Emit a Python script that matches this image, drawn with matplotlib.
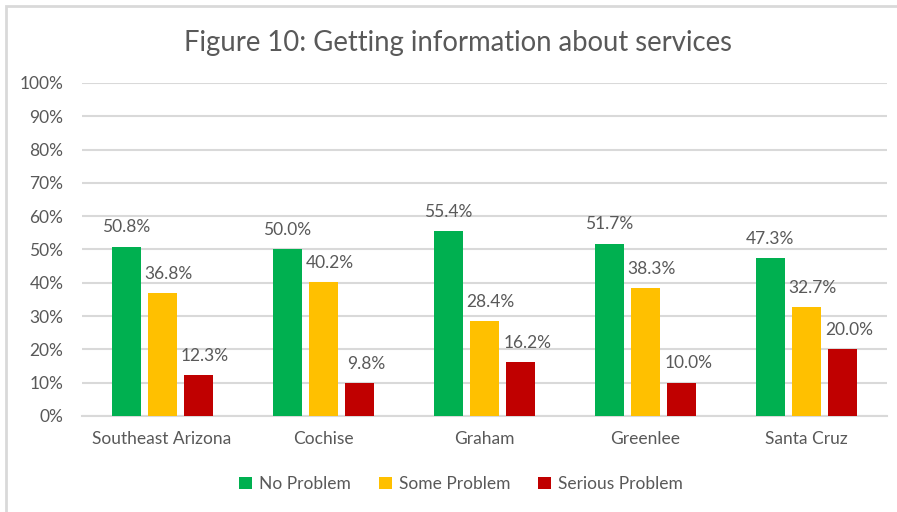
import matplotlib.pyplot as plt
from matplotlib.patches import Rectangle
import numpy as np

plt.rcParams['font.family'] = ['Lato', 'DejaVu Sans']

# Data
regions = ['Southeast Arizona', 'Cochise', 'Graham', 'Greenlee', 'Santa Cruz']
no_problem = [50.8, 50.0, 55.4, 51.7, 47.3]
some_problem = [36.8, 40.2, 28.4, 38.3, 32.7]
serious_problem = [12.3, 9.8, 16.2, 10.0, 20.0]
series_names = ['No Problem', 'Some Problem', 'Serious Problem']
colors = ['#00B050', '#FFC000', '#C00000']
text_color = '#595959'

fig = plt.figure(figsize=(8.97, 5.12), dpi=100)
ax = fig.add_axes([0.0909, 0.1875, 0.898, 0.6505])

# light frame round the chart, like the Excel chart area
fig.patches.append(Rectangle((0.0065, -0.1), 1.2, 1.089, transform=fig.transFigure,
                             fill=False, edgecolor='#d9d9d9', linewidth=2))

x = np.arange(len(regions))
width = 0.18
step = 0.224
label_dx = [0, 4.5, 5]
for i, (vals, name) in enumerate(zip([no_problem, some_problem, serious_problem], series_names)):
    pos = x + (i - 1) * step
    ax.bar(pos, vals, width, color=colors[i], label=name, zorder=3)
    for px, v in zip(pos, vals):
        ax.annotate(f'{v:.1f}%', (px, v), xytext=(label_dx[i], 14), textcoords='offset points',
                    ha='center', va='center', fontsize=12.5, color=text_color)

ax.set_xlim(-0.5, len(regions) - 0.5)
ax.set_ylim(0, 100)
ax.set_yticks(range(0, 101, 10))
ax.set_yticklabels([f'{t}%' for t in range(0, 101, 10)])
ax.set_xticks(x)
ax.set_xticklabels(regions)
ax.tick_params(axis='both', length=0, labelsize=12.5, colors=text_color)
ax.tick_params(axis='x', pad=11)
ax.tick_params(axis='y', pad=13)
ax.grid(axis='y', color='#d9d9d9', linewidth=1.5, zorder=0)
for s in ['top', 'right', 'left']:
    ax.spines[s].set_visible(False)
ax.spines['bottom'].set_color('#d9d9d9')
ax.spines['bottom'].set_linewidth(1.5)

fig.text(0.511, 0.916, 'Figure 10: Getting information about services', ha='center', va='center',
         fontsize=19.8, color=text_color)

leg = fig.legend(loc='center', bbox_to_anchor=(0.514, 0.0547), ncol=3, frameon=False,
                 fontsize=12.5, handlelength=0.75, handleheight=0.75, handletextpad=0.4,
                 columnspacing=1.6)
for t in leg.get_texts():
    t.set_color(text_color)

fig.savefig('out.png', dpi=100)
